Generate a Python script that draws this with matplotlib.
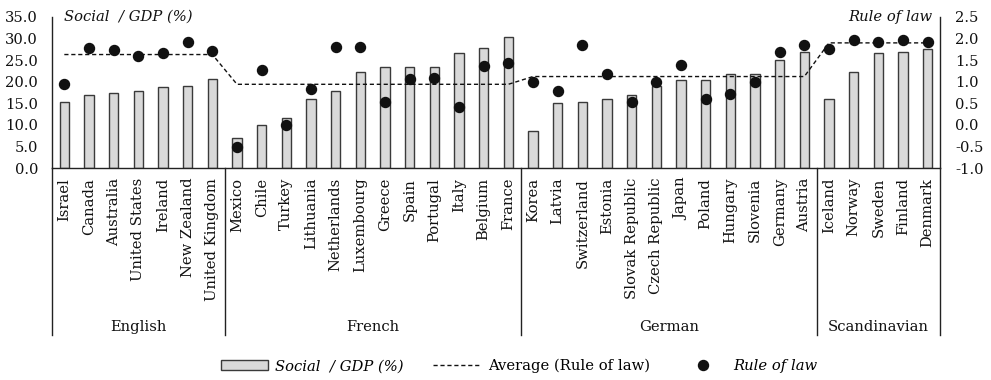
import matplotlib
matplotlib.use("Agg")
import matplotlib.pyplot as plt
from matplotlib.patches import Patch
from matplotlib.lines import Line2D

plt.rcParams['font.family'] = ['DejaVu Serif']

groups = ["English", "French", "German", "Scandinavian"]
group_sizes = [7, 12, 12, 5]
countries = ["Israel", "Canada", "Australia", "United States", "Ireland", "New Zealand", "United Kingdom",
             "Mexico", "Chile", "Turkey", "Lithuania", "Netherlands", "Luxembourg", "Greece", "Spain",
             "Portugal", "Italy", "Belgium", "France",
             "Korea", "Latvia", "Switzerland", "Estonia", "Slovak Republic", "Czech Republic", "Japan",
             "Poland", "Hungary", "Slovenia", "Germany", "Austria",
             "Iceland", "Norway", "Sweden", "Finland", "Denmark"]
social_gdp = [15.3, 16.9, 17.3, 17.9, 18.8, 19.0, 20.6,
              7.0, 10.0, 11.6, 15.9, 17.9, 22.2, 23.5, 23.5, 23.5, 26.6, 27.8, 30.3,
              8.5, 15.0, 15.3, 16.0, 16.9, 19.1, 20.3, 20.3, 21.9, 21.9, 25.0, 26.9,
              16.0, 22.2, 26.6, 26.9, 27.5]
rule_of_law = [0.94, 1.78, 1.74, 1.59, 1.66, 1.91, 1.72,
               -0.52, 1.28, 0.00, 0.82, 1.81, 1.81, 0.53, 1.06, 1.09, 0.41, 1.37, 1.44,
               1.00, 0.79, 1.85, 1.19, 0.53, 1.00, 1.38, 0.59, 0.72, 0.99, 1.69, 1.85,
               1.75, 1.96, 1.93, 1.96, 1.93]
group_avg_rule = [1.63, 0.94, 1.12, 1.90]
left_ticks = [0, 5, 10, 15, 20, 25, 30, 35]
right_ticks = [-1.0, -0.5, 0.0, 0.5, 1.0, 1.5, 2.0, 2.5]

avg_series = []
for a, n in zip(group_avg_rule, group_sizes):
    avg_series += [a] * n

W, H = 991, 380
fig = plt.figure(figsize=(W / 100, H / 100), dpi=100)
L, R, T, B = 52, 940, 17, 168
ax = fig.add_axes([L / W, 1 - B / H, (R - L) / W, (B - T) / H])
ax2 = ax.twinx()

ink = '#111111'
x = list(range(len(countries)))
ax.bar(x, social_gdp, width=0.37, color='#d9d9d9', edgecolor='#3a3a3a', linewidth=1.0, zorder=2)
ax2.plot(x, avg_series, linestyle=(0, (3, 2)), color=ink, linewidth=1.0, zorder=3)
ax2.plot(x, rule_of_law, linestyle='none', marker='o', markersize=7.2, color=ink, zorder=4)

ax.set_xlim(-0.5, len(countries) - 0.5)
ax.set_ylim(0, 35)
ax2.set_ylim(-1, 2.5)
ax.set_yticks(left_ticks)
ax.set_yticklabels([f"{v:.1f}" for v in left_ticks])
ax2.set_yticks(right_ticks)
ax2.set_yticklabels([f"{v:.1f}" for v in right_ticks])
fs = 10.6
ax.tick_params(axis='y', length=0, pad=10, labelsize=fs, colors=ink)
ax2.tick_params(axis='y', length=0, pad=11, labelsize=fs, colors=ink)
ax.set_xticks(x)
ax.set_xticklabels(countries, rotation=90, fontsize=fs, color=ink)
ax.tick_params(axis='x', length=0, pad=7)

for a in (ax, ax2):
    a.spines['top'].set_visible(False)
    for s in ('left', 'right', 'bottom'):
        a.spines[s].set_color('#222222')
        a.spines[s].set_linewidth(1.0)
ax.spines['right'].set_visible(False)
ax2.spines['left'].set_visible(False)
ax2.spines['bottom'].set_visible(False)

# group separators and labels
trans = ax.get_xaxis_transform()
sep_bottom = -(335 - B) / (B - T)
bounds = [-0.5]
for n in group_sizes:
    bounds.append(bounds[-1] + n)
for b in bounds:
    ax.plot([b, b], [0, sep_bottom], transform=trans, color='#222222', linewidth=1.0, clip_on=False)
lab_y = -(327 - B) / (B - T)
for g, a0, a1 in zip(groups, bounds[:-1], bounds[1:]):
    ax.text((a0 + a1) / 2, lab_y, g, transform=trans, ha='center', va='center', fontsize=fs, color=ink)

# axis titles
ax.text((64 - L) / (R - L), 1.0, "Social  / GDP (%)", transform=ax.transAxes, ha='left', va='center',
        fontsize=fs, style='italic', color=ink)
ax.text((932 - L) / (R - L), 1.0, "Rule of law", transform=ax.transAxes, ha='right', va='center',
        fontsize=fs, style='italic', color=ink)

handles = [Patch(facecolor='#d9d9d9', edgecolor='#3a3a3a', linewidth=1.0),
           Line2D([], [], linestyle=(0, (3, 2)), color=ink, linewidth=1.0),
           Line2D([], [], linestyle='none', marker='o', markersize=7.2, color=ink)]
labels = ["Social  / GDP (%)", "Average (Rule of law)", "Rule of law"]
leg = fig.legend(handles, labels, loc='center', bbox_to_anchor=(0.524, 1 - 366 / H), ncol=3,
                 frameon=False, fontsize=fs, handlelength=3.2, handleheight=0.6,
                 columnspacing=2.0, handletextpad=0.5)
leg.get_texts()[0].set_style('italic')
leg.get_texts()[2].set_style('italic')

fig.savefig("out.png", dpi=100)
